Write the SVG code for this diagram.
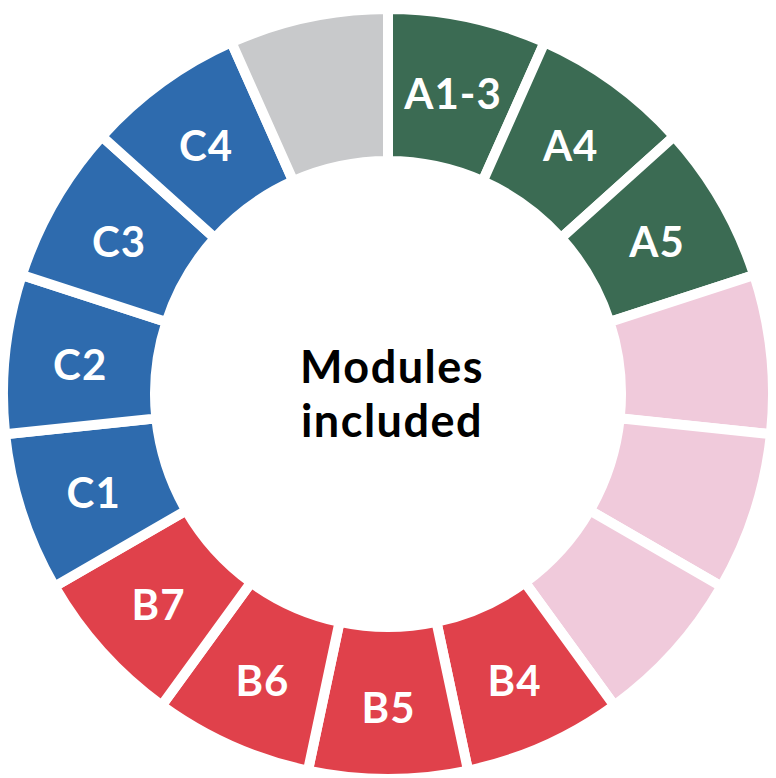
<svg xmlns="http://www.w3.org/2000/svg" width="776" height="778" viewBox="0 0 776 778">
<style>
.seg{stroke:#ffffff;stroke-width:10;stroke-linejoin:miter}
.g{fill:#3b6b53}.p{fill:#f0cadb}.r{fill:#e0414b}.b{fill:#2e6bae}.gr{fill:#c8c9cb}
.lbl{font-family:Lato,"Liberation Sans",sans-serif;font-weight:700;font-size:42px;letter-spacing:1px;fill:#ffffff;text-anchor:middle}
.ctr{font-family:Lato,"Liberation Sans",sans-serif;font-weight:700;font-size:45px;letter-spacing:1.5px;fill:#000000;text-anchor:middle}
</style>
<rect width="776" height="778" fill="#ffffff"/>
<g id="seg-a13"><path class="seg g" d="M388,9 A385,385 0 0 1 544.59,42.28 L482.77,181.14 A233,233 0 0 0 388,161 Z"/><text class="lbl" x="453" y="108.5">A1-3</text></g>
<g id="seg-a4"><path class="seg g" d="M544.59,42.28 A385,385 0 0 1 674.11,136.38 L561.15,238.09 A233,233 0 0 0 482.77,181.14 Z"/><text class="lbl" x="570.7" y="161">A4</text></g>
<g id="seg-a5"><path class="seg g" d="M674.11,136.38 A385,385 0 0 1 754.16,275.03 L609.60,322.00 A233,233 0 0 0 561.15,238.09 Z"/><text class="lbl" x="657" y="257">A5</text></g>
<g id="seg-p1"><path class="seg p" d="M754.16,275.03 A385,385 0 0 1 770.89,434.24 L619.72,418.35 A233,233 0 0 0 609.60,322.00 Z"/></g>
<g id="seg-p2"><path class="seg p" d="M770.89,434.24 A385,385 0 0 1 721.42,586.5 L589.78,510.5 A233,233 0 0 0 619.72,418.35 Z"/></g>
<g id="seg-p3"><path class="seg p" d="M721.42,586.5 A385,385 0 0 1 614.30,705.47 L524.95,582.50 A233,233 0 0 0 589.78,510.5 Z"/></g>
<g id="seg-b4"><path class="seg r" d="M614.30,705.47 A385,385 0 0 1 468.05,770.59 L436.44,621.91 A233,233 0 0 0 524.95,582.50 Z"/><text class="lbl" x="514.6" y="696">B4</text></g>
<g id="seg-b5"><path class="seg r" d="M468.05,770.59 A385,385 0 0 1 307.95,770.59 L339.56,621.91 A233,233 0 0 0 436.44,621.91 Z"/><text class="lbl" x="388.5" y="722.5">B5</text></g>
<g id="seg-b6"><path class="seg r" d="M307.95,770.59 A385,385 0 0 1 161.70,705.47 L251.05,582.50 A233,233 0 0 0 339.56,621.91 Z"/><text class="lbl" x="262.4" y="696">B6</text></g>
<g id="seg-b7"><path class="seg r" d="M161.70,705.47 A385,385 0 0 1 54.58,586.5 L186.22,510.5 A233,233 0 0 0 251.05,582.50 Z"/><text class="lbl" x="158.6" y="620">B7</text></g>
<g id="seg-c1"><path class="seg b" d="M54.58,586.5 A385,385 0 0 1 5.11,434.24 L156.28,418.35 A233,233 0 0 0 186.22,510.5 Z"/><text class="lbl" x="93.7" y="508">C1</text></g>
<g id="seg-c2"><path class="seg b" d="M5.11,434.24 A385,385 0 0 1 21.84,275.03 L166.40,322.00 A233,233 0 0 0 156.28,418.35 Z"/><text class="lbl" x="80.2" y="379.6">C2</text></g>
<g id="seg-c3"><path class="seg b" d="M21.84,275.03 A385,385 0 0 1 101.89,136.38 L214.85,238.09 A233,233 0 0 0 166.40,322.00 Z"/><text class="lbl" x="119" y="257">C3</text></g>
<g id="seg-c4"><path class="seg b" d="M101.89,136.38 A385,385 0 0 1 231.41,42.28 L293.23,181.14 A233,233 0 0 0 214.85,238.09 Z"/><text class="lbl" x="206" y="161">C4</text></g>
<g id="seg-gray"><path class="seg gr" d="M231.41,42.28 A385,385 0 0 1 388,9 L388,161 A233,233 0 0 0 293.23,181.14 Z"/></g>
<g id="center"><text class="ctr" x="392" y="383">Modules</text><text class="ctr" x="392" y="437">included</text></g>
<g id="connectors"></g>
</svg>
